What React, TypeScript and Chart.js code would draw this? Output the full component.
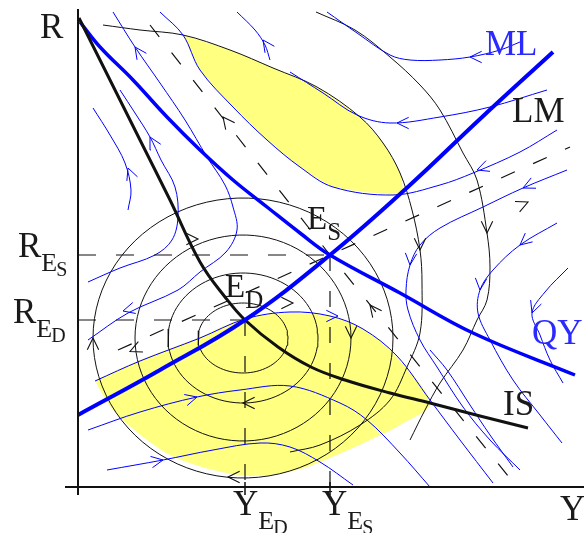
import React, { useEffect, useRef } from "react";
import { Chart, registerables } from "chart.js";

Chart.register(...registerables);

// ---- axis range (Y = output, R = interest rate), arbitrary units ----
const Y_MIN = 0;
const Y_MAX = 10;
const R_MIN = 0;
const R_MAX = 9.5;

// ---- equilibria ----
const Y_ED = 3.34;
const R_ED = 3.34;
const Y_ES = 5.04;
const R_ES = 4.64;

// ---- main curves [Y, R] ----
const isCurve = [[0.02, 9.38], [0.64, 8.14], [1.24, 6.94], [1.84, 5.74], [2.44, 4.5], [2.94, 3.8], [3.34, 3.34], [4.0, 2.8], [4.66, 2.4], [5.34, 2.14], [6.24, 1.88], [7.04, 1.68], [8.04, 1.42], [9.0, 1.18]];
const lmCurve = [[0, 1.44], [1.64, 2.34], [3.34, 3.34], [5.04, 4.64], [6.64, 6.04], [8.04, 7.36], [9.5, 8.7]];
const mlCurve = [[0.04, 9.3], [0.44, 8.8], [1.1, 8.14], [1.78, 7.4], [2.44, 6.74], [3.1, 6.14], [3.78, 5.6], [4.44, 5.08], [5.04, 4.64], [6.44, 3.88], [7.9, 3.08], [9.94, 2.24]];

// ---- shaded regions ----
const upperRegion = [[2.1, 9.04], [3.04, 8.74], [3.9, 8.38], [4.78, 8.0], [5.64, 7.4], [6.1, 6.88], [6.44, 6.28], [6.5, 5.88], [6.3, 5.84], [5.1, 6.0], [4.44, 6.4], [3.78, 6.94], [3.1, 7.6], [2.44, 8.34], [2.1, 9.04]];
const lowerRegion = [[0.34, 2.14], [1.24, 2.54], [2.44, 3.0], [3.34, 3.38], [4.24, 3.48], [5.04, 3.42], [5.64, 3.2], [6.24, 2.74], [7.04, 1.68], [6.44, 1.24], [5.84, 0.94], [5.04, 0.58], [4.38, 0.34], [3.5, 0.22], [2.7, 0.34], [1.84, 0.64], [1.18, 1.1], [0.7, 1.54], [0.44, 1.94], [0.34, 2.14]];

// ---- closed orbits around E_D: centre and half-axes ----
const orbitCentreY = 3.3;
const orbitCentreR = 2.98;
const orbitHalfY = [0.9, 1.5, 2.16, 3.0];
const orbitHalfR = [0.7, 1.3, 2.06, 2.8];

// ---- open black trajectories ----
const trajA = [[0.5, 9.24], [1.24, 9.14], [2.1, 9.04], [3.04, 8.74], [3.9, 8.38], [4.78, 8.0], [5.64, 7.4], [6.1, 6.88], [6.44, 6.28], [6.68, 5.54], [6.84, 4.74], [6.88, 4.08], [6.84, 3.08], [6.58, 2.4], [6.24, 1.74], [5.64, 1.24], [4.84, 0.84], [4.24, 0.7]];
const trajB = [[4.76, 9.5], [5.54, 9.14], [6.24, 8.6], [6.84, 8.04], [7.24, 7.54], [7.7, 6.68], [7.98, 6.14], [8.18, 5.08], [8.24, 4.4], [8.18, 3.74], [7.98, 3.34], [7.7, 2.74], [7.24, 2.08], [6.94, 1.54], [6.64, 0.94]];

// ---- separatrices through E_S (dashed) ----
const stableBranch = [[1.44, 9.24], [5.04, 4.64], [8.78, 0]];
const unstableBranch = [[0.8, 2.74], [5.04, 4.64], [9.84, 6.8]];

// ---- blue flow lines ----
const flowU1 = [[1.64, 9.5], [2.1, 9.04], [2.44, 8.34], [3.1, 7.6], [3.78, 6.94], [4.44, 6.4], [5.1, 6.0], [6.3, 5.84], [7.24, 6.04], [7.9, 6.28], [8.84, 6.7], [9.58, 7.14]];
const flowM1 = [[4.98, 9.5], [5.58, 9.08], [6.24, 8.64], [6.64, 8.54], [7.24, 8.54], [7.84, 8.6], [8.44, 8.74], [8.84, 8.9]];
const flowM2 = [[4.24, 8.3], [4.9, 7.88], [5.58, 7.44], [6.24, 7.28], [7.24, 7.4], [8.24, 7.6], [9.38, 7.94]];
const flowM4 = [[9.78, 6.34], [8.9, 5.98], [8.1, 5.6], [7.24, 5.18], [6.84, 4.84], [6.64, 4.44], [6.56, 3.94], [6.6, 3.54], [6.84, 2.94], [7.18, 2.4], [7.7, 1.6], [8.24, 0.94], [8.84, 0.34]];
const flowM6 = [[9.58, 5.28], [8.84, 4.84], [8.3, 4.34], [8.04, 3.94], [8.0, 3.48], [8.24, 2.94], [8.7, 2.14], [9.24, 1.44], [9.68, 0.88]];
const flowM7 = [[9.8, 4.38], [9.34, 3.9], [9.08, 3.48], [9.24, 3.04], [9.44, 2.54], [9.7, 2.08]];
const flowD1 = [[0.34, 2.12], [1.24, 2.52], [2.44, 2.98], [3.34, 3.36], [4.24, 3.5], [5.04, 3.42], [5.7, 3.16], [6.38, 2.62], [7.04, 1.74], [7.64, 0.94], [8.3, 0.08]];
const flowB4 = [[0.2, 1.14], [1.24, 1.5], [2.38, 1.8], [3.24, 1.94], [4.24, 2.02], [5.24, 1.68], [5.78, 1.34], [6.44, 0.68], [7.04, 0.0]];
const flowB5 = [[0.58, 0.34], [1.7, 0.54], [2.7, 0.74], [3.64, 0.88], [4.24, 0.8], [4.84, 0.5], [5.5, 0.04]];
const flowD5 = [[7.04, 2.74], [7.38, 2.34], [7.84, 1.64], [8.24, 1.04], [8.7, 0.4]];
const flowL1 = [[0.3, 7.58], [0.64, 7.04], [0.94, 6.48], [1.06, 5.94], [1.0, 5.54]];
const flowL2 = [[0.84, 7.94], [1.14, 7.48], [1.44, 7.0], [1.66, 6.54], [1.94, 6.0], [2.0, 5.4], [1.88, 4.94], [1.54, 4.64], [0.84, 4.38], [0.2, 4.1]];
const flowL5 = [[3.18, 9.5], [3.54, 9.14], [3.74, 8.84], [3.84, 8.54]];
const flowL6 = [[0.7, 9.5], [1.14, 8.8], [1.64, 8.08], [2.14, 7.34], [2.58, 6.6], [2.94, 6.04], [3.1, 5.6], [3.18, 5.14], [2.96, 4.7], [2.44, 4.3], [2.0, 3.94], [1.0, 3.48], [0.2, 2.94]];

// ---- direction arrowheads: position [Y, R] and heading (deg, 0 = +Y, 90 = +R) ----
const blueArrowY = [7.84, 6.38, 7.98, 8.9, 8.84, 9.08, 1.0, 1.44, 1.14, 3.7, 2.38, 1.7, 6.64, 8.04, 5.2, 0.9];
const blueArrowR = [8.6, 7.28, 6.34, 5.98, 4.84, 3.48, 6.38, 7.0, 8.8, 8.94, 1.8, 0.54, 4.44, 3.94, 3.42, 3.52];
const blueArrowDir = [180, 180, 200, 205, 220, 250, 111, 120, 125, 125, 15, 10, 265, 265, 0, 195];
const blackArrowY = [2.9, 5.84, 1.04, 9.0, 0.3, 2.4, 3.3, 3.0, 5.46, 6.84, 8.18, 4.3];
const blackArrowR = [7.4, 3.64, 2.71, 5.7, 2.98, 4.96, 1.68, 0.2, 2.98, 4.74, 5.08, 3.68];
const blackArrowDir = [128, 128, 204, 24, 90, 0, 180, 180, 270, 270, 270, 0];

// ---- text labels ----
const labelMain = ["R", "ML", "LM", "IS", "QY", "Y", "E", "E", "R", "R", "Y", "Y"];
const labelSub = ["", "", "", "", "", "", "S", "D", "E", "E", "E", "E"];
const labelSub2 = ["", "", "", "", "", "", "", "", "S", "D", "D", "S"];
const labelAtY = [-0.76, 8.14, 8.68, 8.5, 9.08, 9.64, 4.58, 2.94, -1.2, -1.3, 3.1, 4.88];
const labelAtR = [8.98, 8.64, 7.3, 1.44, 2.86, -0.66, 5.16, 3.8, 4.6, 3.28, -0.56, -0.56];
const labelBlue = [false, true, false, false, true, false, false, false, false, false, false, false];

const pts = (a: number[][]) => a.map(([x, y]) => ({ x, y }));

function ellipse(cx: number, cy: number, rx: number, ry: number) {
  const out: { x: number; y: number }[] = [];
  for (let i = 0; i <= 90; i++) {
    const t = (i / 90) * Math.PI * 2;
    out.push({ x: cx + rx * Math.cos(t), y: cy + ry * Math.sin(t) });
  }
  return out;
}

// V-shaped arrowhead (two barbs meeting at the tip)
function arrowHead(x: number, y: number, deg: number, len = 0.26, spread = 26) {
  const a = (deg * Math.PI) / 180;
  const s = (spread * Math.PI) / 180;
  return [
    { x: x - len * Math.cos(a - s), y: y - len * Math.sin(a - s) },
    { x, y },
    { x: x - len * Math.cos(a + s), y: y - len * Math.sin(a + s) },
  ];
}

const BLUE = "#0000ff";
const INK = "#111111";
const FONT = '"Liberation Serif", "Times New Roman", serif';

export default function App() {
  const ref = useRef<HTMLCanvasElement | null>(null);

  useEffect(() => {
    document.body.style.margin = "0";
    const canvas = ref.current;
    if (!canvas) return;

    const line = (data: any[], color: string, width: number, order: number, extra: any = {}) => ({
      type: "scatter",
      data,
      showLine: true,
      borderColor: color,
      backgroundColor: color,
      borderWidth: width,
      pointRadius: 0,
      tension: 0.35,
      fill: false,
      order,
      clip: false,
      ...extra,
    });

    const datasets: any[] = [];
    datasets.push(line(pts(upperRegion), "rgba(0,0,0,0)", 0, 50, { fill: "shape", backgroundColor: "#ffff80", tension: 0.15 }));
    datasets.push(line(pts(lowerRegion), "rgba(0,0,0,0)", 0, 50, { fill: "shape", backgroundColor: "#ffff80", tension: 0.3 }));
    orbitHalfY.forEach((rx, i) => {
      datasets.push(line(ellipse(orbitCentreY, orbitCentreR, rx, orbitHalfR[i]), INK, 1, 30, { tension: 0 }));
    });
    datasets.push(line(pts(trajA), INK, 1, 30));
    datasets.push(line(pts(trajB), INK, 1, 30));
    datasets.push(line(pts(stableBranch), INK, 1.2, 28, { tension: 0, borderDash: [15, 20] }));
    datasets.push(line(pts(unstableBranch), INK, 1.2, 28, { tension: 0, borderDash: [15, 20] }));
    [flowU1, flowM1, flowM2, flowM4, flowM6, flowM7, flowD1, flowB4, flowB5, flowD5, flowL1, flowL2, flowL5, flowL6].forEach((f) => {
      datasets.push(line(pts(f), BLUE, 1, 20));
    });
    blueArrowY.forEach((x, i) => {
      datasets.push(line(arrowHead(x, blueArrowR[i], blueArrowDir[i]), BLUE, 1, 19, { tension: 0 }));
    });
    blackArrowY.forEach((x, i) => {
      datasets.push(line(arrowHead(x, blackArrowR[i], blackArrowDir[i]), INK, 1.1, 19, { tension: 0 }));
    });
    datasets.push(line(pts([[0, R_ES], [Y_ES, R_ES]]), INK, 1.2, 15, { tension: 0, borderDash: [18, 20] }));
    datasets.push(line(pts([[0, R_ED], [Y_ED, R_ED]]), INK, 1.2, 15, { tension: 0, borderDash: [18, 20] }));
    datasets.push(line(pts([[Y_ED, R_ED], [Y_ED, 0]]), INK, 1.2, 15, { tension: 0, borderDash: [16, 20] }));
    datasets.push(line(pts([[Y_ES, R_ES], [Y_ES, 0]]), INK, 1.2, 15, { tension: 0, borderDash: [16, 20] }));
    datasets.push(line(pts([[Y_ED, 0.1], [Y_ED, -0.16]]), INK, 1.5, 5, { tension: 0 }));
    datasets.push(line(pts([[Y_ES, 0.1], [Y_ES, -0.16]]), INK, 1.5, 5, { tension: 0 }));
    datasets.push(line(pts(mlCurve), BLUE, 3.5, 3, { tension: 0.4 }));
    datasets.push(line(pts(isCurve), INK, 3, 2, { tension: 0.4 }));
    datasets.push(line(pts(lmCurve), BLUE, 4, 1, { tension: 0.4 }));
    datasets.push(line(pts([[0, -0.16], [0, 9.56]]), INK, 2, 0, { tension: 0 }));
    datasets.push(line(pts([[-0.26, 0], [10.12, 0]]), INK, 2, 0, { tension: 0 }));

    const labelPlugin = {
      id: "diagramLabels",
      afterDatasetsDraw(chart: any) {
        const { ctx } = chart;
        const xs = chart.scales.x;
        const ys = chart.scales.y;
        ctx.save();
        ctx.textBaseline = "alphabetic";
        ctx.textAlign = "left";
        labelMain.forEach((t, i) => {
          const onPlot = labelSub[i] !== "" && labelSub2[i] === "";
          const mainSize = onPlot ? 33 : 35;
          let x = xs.getPixelForValue(labelAtY[i]);
          const y = ys.getPixelForValue(labelAtR[i]);
          ctx.fillStyle = labelBlue[i] ? "#2a2aff" : "#1a1a1a";
          ctx.font = `${mainSize}px ${FONT}`;
          ctx.fillText(t, x, y);
          x += ctx.measureText(t).width;
          if (labelSub[i]) {
            const s = onPlot ? 25 : 26;
            ctx.font = `${s}px ${FONT}`;
            ctx.fillText(labelSub[i], x, y + (onPlot ? 11 : 14));
            x += ctx.measureText(labelSub[i]).width;
          }
          if (labelSub2[i]) {
            ctx.font = `20px ${FONT}`;
            ctx.fillText(labelSub2[i], x - 1, y + 19);
          }
        });
        ctx.restore();
      },
    };

    const chart = new Chart(canvas, {
      type: "scatter",
      data: { datasets },
      options: {
        animation: false,
        responsive: false,
        maintainAspectRatio: false,
        devicePixelRatio: 1,
        events: [],
        layout: { padding: { left: 78, right: 6, top: 12, bottom: 46 } },
        plugins: { legend: { display: false }, tooltip: { enabled: false } },
        scales: {
          x: { type: "linear", min: Y_MIN, max: Y_MAX, display: false },
          y: { type: "linear", min: R_MIN, max: R_MAX, display: false },
        },
      },
      plugins: [labelPlugin],
    } as any);

    return () => chart.destroy();
  }, []);

  return (
    <div style={{ width: 584, height: 533, position: "relative", background: "#fff" }}>
      <canvas ref={ref} width={584} height={533} style={{ display: "block" }} />
    </div>
  );
}
